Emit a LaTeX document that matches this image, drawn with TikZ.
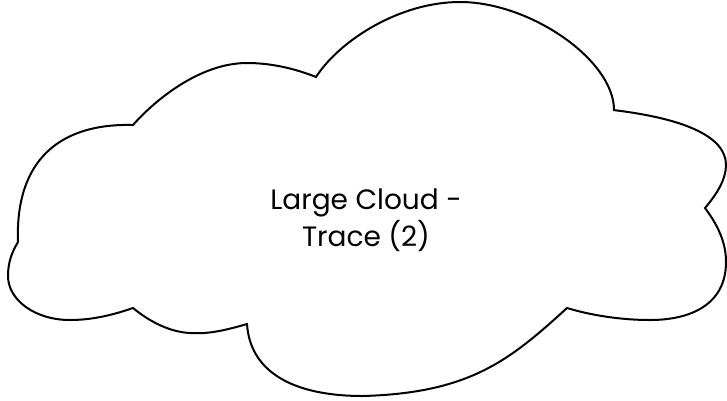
\documentclass[tikz,border=0pt]{standalone}
\usepackage{fontspec}
\setmainfont{Poppins}
\begin{document}
\begin{tikzpicture}[x=1pt,y=-1pt,
  cloudline/.style={draw=black, line width=2pt, line join=miter},
  label/.style={align=center, inner sep=0pt, font=\fontsize{28}{37}\selectfont}]
\useasboundingbox (0,0) rectangle (727,400);
\draw[cloudline]
  (133,125) .. controls (155,100) and (200,63) .. (247,63)
            .. controls (272,63) and (296,69) .. (316,77)
            .. controls (340,40) and (400,2) .. (460,2)
            .. controls (530,2) and (614,60) .. (614,110)
  -- (613,110) .. controls (680,118) and (726,135) .. (726,165)
            .. controls (726,180) and (716,195) .. (705,208)
            .. controls (720,228) and (726,245) .. (726,262)
            .. controls (726,305) and (690,320) .. (650,320)
            .. controls (620,320) and (590,315) .. (567,308)
            .. controls (510,360) and (470,393) .. (363,396)
            .. controls (290,396) and (250,370) .. (247,324)
            .. controls (220,332) and (205,334) .. (190,333)
            .. controls (170,332) and (150,322) .. (133,308)
            .. controls (110,316) and (90,320) .. (70,320)
            .. controls (35,320) and (8,300) .. (8,276)
            .. controls (8,262) and (12,252) .. (18,242)
            .. controls (15,160) and (60,123) .. (133,125)
  -- cycle;
\node[label] (txt) at (366,220) {Large Cloud -\\Trace (2)};
\end{tikzpicture}
\end{document}
